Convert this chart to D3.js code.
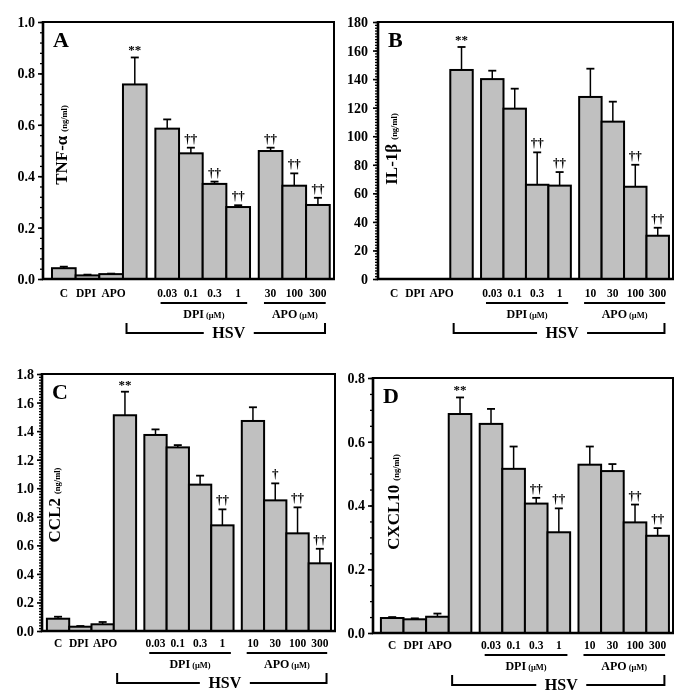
<!DOCTYPE html>
<html>
<head>
<meta charset="utf-8">
<script src="https://cdn.jsdelivr.net/npm/d3@7"></script>
<style>
  html, body { margin: 0; padding: 0; background: #fff; }
  svg { display: block; will-change: transform; }
  text { font-family: "Liberation Serif", "Times New Roman", serif; font-weight: bold; fill: #000; }
</style>
</head>
<body>
<script>
// ---------- data ----------
const baseCats = ["C", "DPI", "APO", ""];          // last one = HSV alone
const dpiDoses = ["0.03", "0.1", "0.3", "1"];
const apoDosesA = ["30", "100", "300"];
const apoDoses = ["10", "30", "100", "300"];

const tnfValues = [0.042, 0.014, 0.019, 0.757, 0.585, 0.489, 0.370, 0.280, 0.498, 0.363, 0.288];
const tnfErrors = [0.006, 0.003, 0.002, 0.105, 0.036, 0.022, 0.009, 0.007, 0.013, 0.048, 0.028];
const tnfMarks  = ["", "", "", "**", "", "††", "††", "††", "††", "††", "††"];

const il1bValues = [0, 0, 0, 146.4, 140.0, 119.3, 66.0, 65.4, 127.5, 110.2, 64.6, 30.3];
const il1bErrors = [0, 0, 0, 16.1, 5.9, 14.0, 22.7, 9.5, 19.8, 14.0, 15.4, 5.6];
const il1bMarks  = ["", "", "", "**", "", "", "††", "††", "", "", "††", "††"];

const ccl2Values = [0.086, 0.030, 0.047, 1.511, 1.373, 1.286, 1.025, 0.740, 1.471, 0.915, 0.684, 0.474];
const ccl2Errors = [0.014, 0.005, 0.016, 0.165, 0.039, 0.016, 0.063, 0.112, 0.096, 0.119, 0.182, 0.102];
const ccl2Marks  = ["", "", "", "**", "", "", "", "††", "", "†", "††", "††"];

const cxcl10Values = [0.047, 0.043, 0.051, 0.687, 0.656, 0.515, 0.406, 0.316, 0.528, 0.508, 0.347, 0.305];
const cxcl10Errors = [0.003, 0.003, 0.010, 0.052, 0.047, 0.070, 0.018, 0.075, 0.057, 0.022, 0.056, 0.024];
const cxcl10Marks  = ["", "", "", "**", "", "", "††", "††", "", "", "††", "††"];

const yTitles = ["TNF-α", "IL-1β", "CCL2", "CXCL10"];
const yUnit = "(ng/ml)";
const yMaxes = [1.0, 180, 1.8, 0.8];
const yMajor = [0.2, 20, 0.2, 0.2];
const yMinor = [0.04, 2, 0.02, 0.05];
const panelLetters = ["A", "B", "C", "D"];

// ---------- layout ----------
const W = 685, H = 696;
const svg = d3.select("body").append("svg").attr("width", W).attr("height", H);

const panels = [
  { letter: panelLetters[0], title: yTitles[0], values: tnfValues, errors: tnfErrors, marks: tnfMarks, apo: apoDosesA,
    yMax: yMaxes[0], major: yMajor[0], minor: yMinor[0], fmt: d3.format(".1f"),
    x0: 43, x1: 334, y0: 22, y1: 279, padL: 0.38, titleDx: 24, titleDy: 123, tickPad: 3, lshift: 0 },
  { letter: panelLetters[1], title: yTitles[1], values: il1bValues, errors: il1bErrors, marks: il1bMarks, apo: apoDoses,
    yMax: yMaxes[1], major: yMajor[1], minor: yMinor[1], fmt: d3.format("d"),
    x0: 378, x1: 673, y0: 22, y1: 279, padL: 0.22, titleDx: 19, titleDy: 127, tickPad: 5, lshift: 0 },
  { letter: panelLetters[2], title: yTitles[2], values: ccl2Values, errors: ccl2Errors, marks: ccl2Marks, apo: apoDoses,
    yMax: yMaxes[2], major: yMajor[2], minor: yMinor[2], fmt: d3.format(".1f"),
    x0: 42, x1: 335, y0: 374, y1: 631, padL: 0.22, titleDx: 18, titleDy: 131, tickPad: 3, lshift: -2 },
  { letter: panelLetters[3], title: yTitles[3], values: cxcl10Values, errors: cxcl10Errors, marks: cxcl10Marks, apo: apoDoses,
    yMax: yMaxes[3], major: yMajor[3], minor: yMinor[3], fmt: d3.format(".1f"),
    x0: 373, x1: 673, y0: 378, y1: 633, padL: 0.35, titleDx: 26, titleDy: 124, tickPad: 3, lshift: -2 }
];

const GAP = 0.37, PADR = 0.18;
const baseLabelNudge = [0, -1.5, 2.5, 0]; // small horizontal label nudges (px)

panels.forEach(p => {
  const g = svg.append("g");
  const cats = baseCats.concat(dpiDoses, p.apo);
  const n = cats.length;
  const groupOf = i => (i < 4 ? 0 : (i < 8 ? 1 : 2));
  const pos = i => i + GAP * groupOf(i);

  const x = d3.scaleLinear().domain([-p.padL, n + 2 * GAP + PADR]).range([p.x0, p.x1]);
  const y = d3.scaleLinear().domain([0, p.yMax]).range([p.y1, p.y0]);

  const data = cats.map((c, i) => ({ c, i, v: p.values[i], e: p.errors[i], m: p.marks[i], p: pos(i) }));

  // minor ticks
  const eps = p.minor / 10;
  const minorVals = d3.range(0, p.yMax + eps, p.minor);
  const majorVals = d3.range(0, p.yMax + eps / 10, p.major);
  const minorAxis = d3.axisLeft(y).tickValues(minorVals).tickSize(3).tickFormat("");
  const gMin = g.append("g").attr("transform", `translate(${p.x0},0)`).call(minorAxis);
  gMin.select(".domain").remove();
  gMin.selectAll("line").attr("stroke", "#000").attr("stroke-width", 1.3);

  const majorAxis = d3.axisLeft(y).tickValues(majorVals).tickSize(5).tickPadding(p.tickPad).tickFormat(p.fmt);
  const gMaj = g.append("g").attr("transform", `translate(${p.x0},0)`).call(majorAxis);
  gMaj.select(".domain").remove();
  gMaj.selectAll("line").attr("stroke", "#000").attr("stroke-width", 1.6);
  gMaj.selectAll("text").style("font-size", "14px").style("font-family", "'Liberation Serif', serif")
      .style("font-weight", "bold").attr("fill", "#000");

  // bars
  g.selectAll("rect.bar").data(data.filter(d => d.v > 0)).enter().append("rect")
    .attr("class", "bar")
    .attr("x", d => x(d.p)).attr("width", d => x(d.p + 1) - x(d.p))
    .attr("y", d => y(d.v)).attr("height", d => y(0) - y(d.v))
    .attr("fill", "#c0c0c0").attr("stroke", "#000").attr("stroke-width", 2);

  // error bars
  const eb = g.selectAll("g.err").data(data.filter(d => d.v > 0 && d.e > 0)).enter().append("g");
  eb.append("line")
    .attr("x1", d => x(d.p + 0.5)).attr("x2", d => x(d.p + 0.5))
    .attr("y1", d => y(d.v)).attr("y2", d => y(d.v + d.e))
    .attr("stroke", "#000").attr("stroke-width", 1.5);
  eb.append("line")
    .attr("x1", d => x(d.p + 0.5) - 4).attr("x2", d => x(d.p + 0.5) + 4)
    .attr("y1", d => y(d.v + d.e)).attr("y2", d => y(d.v + d.e))
    .attr("stroke", "#000").attr("stroke-width", 1.8);

  // significance marks
  g.selectAll("text.mark").data(data.filter(d => d.m)).enter().append("text")
    .attr("x", d => x(d.p + 0.5)).attr("y", d => y(d.v + d.e) - (d.m === "**" ? 3 : 5))
    .attr("text-anchor", "middle")
    .style("font-size", "13px")
    .text(d => d.m);

  // frame / axes
  g.append("rect").attr("x", p.x0).attr("y", p.y0).attr("width", p.x1 - p.x0).attr("height", p.y1 - p.y0)
    .attr("fill", "none").attr("stroke", "#000").attr("stroke-width", 2);
  g.append("line").attr("x1", p.x0).attr("x2", p.x0).attr("y1", p.y0 - 1).attr("y2", p.y1 + 1)
    .attr("stroke", "#000").attr("stroke-width", 2.6);
  g.append("line").attr("x1", p.x0 - 1).attr("x2", p.x1 + 1).attr("y1", p.y1).attr("y2", p.y1)
    .attr("stroke", "#000").attr("stroke-width", 2.6);

  // panel letter
  g.append("text").attr("x", p.x0 + 10).attr("y", p.y0 + 25).style("font-size", "22px").text(p.letter);

  // y title
  const t = g.append("text")
    .attr("transform", `translate(${p.x0 + p.titleDx},${p.y0 + p.titleDy}) rotate(-90)`)
    .attr("text-anchor", "middle");
  t.append("tspan").style("font-size", "17px").text(p.title);
  t.append("tspan").style("font-size", "8.5px").attr("dx", 4).text(yUnit);

  // category labels
  const lb = p.y1 + p.lshift;
  g.selectAll("text.cat").data(data.filter(d => d.c)).enter().append("text")
    .attr("x", d => x(d.p + 0.5) + (d.i < 4 ? baseLabelNudge[d.i] : 0)).attr("y", lb + 18)
    .attr("text-anchor", "middle").style("font-size", "11.5px").text(d => d.c);

  // group lines
  const groups = [
    { name: "DPI", a: pos(4) + 0.22, b: pos(7) + 1 - 0.12 },
    { name: "APO", a: pos(8) + 0.22, b: pos(n - 1) + 1 - 0.17 }
  ];
  groups.forEach(gr => {
    g.append("line").attr("x1", x(gr.a)).attr("x2", x(gr.b)).attr("y1", lb + 24).attr("y2", lb + 24)
      .attr("stroke", "#000").attr("stroke-width", 2);
    const tt = g.append("text").attr("x", (x(gr.a) + x(gr.b)) / 2).attr("y", lb + 39).attr("text-anchor", "middle");
    tt.append("tspan").style("font-size", "12px").text(gr.name);
    tt.append("tspan").style("font-size", "8.5px").attr("dx", 2).text("(μM)");
  });

  // HSV bracket
  const ha = x(pos(3) + 0.15), hb = x(pos(n - 1) + 1 - 0.2), hm = (ha + hb) / 2 + 3;
  const by = lb + 54;
  const br = d3.path();
  br.moveTo(ha, by - 10); br.lineTo(ha, by); br.lineTo(hm - 25, by);
  br.moveTo(hm + 25, by); br.lineTo(hb, by); br.lineTo(hb, by - 10);
  g.append("path").attr("d", br.toString()).attr("fill", "none").attr("stroke", "#000").attr("stroke-width", 2);
  g.append("text").attr("x", hm).attr("y", by + 5).attr("text-anchor", "middle").style("font-size", "16px").text("HSV");
});
</script>
</body>
</html>
